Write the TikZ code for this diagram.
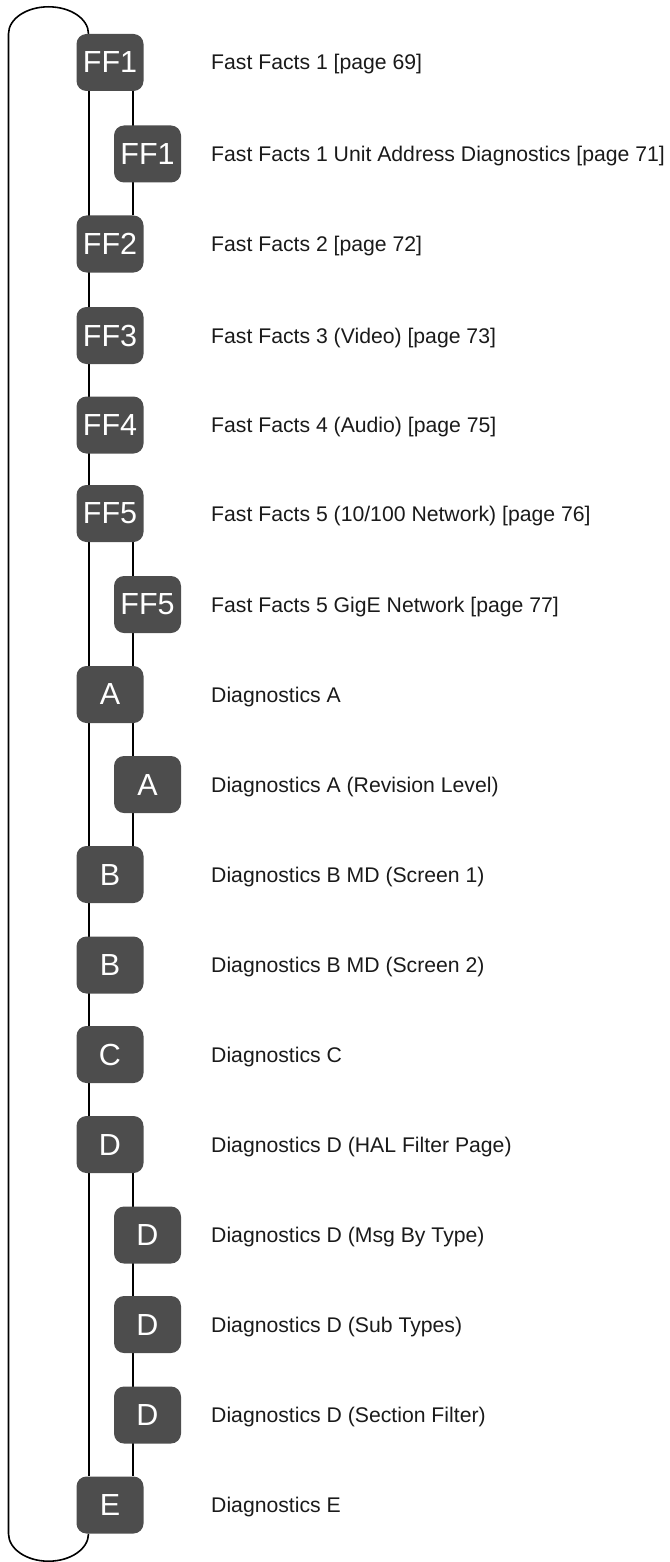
\documentclass[tikz,border=0pt]{standalone}
\usepackage{fontspec}
\setmainfont{Liberation Sans}
\usetikzlibrary{calc,backgrounds}
\definecolor{tabgray}{HTML}{4D4D4D}
\definecolor{inktext}{HTML}{1A1A1A}

\begin{document}
\begin{tikzpicture}[x=1pt, y=-1pt,
  mainbox/.style={rectangle, fill=tabgray, rounded corners=10pt, minimum width=67pt, minimum height=57pt, inner sep=0pt, text=white, font=\fontsize{30.5}{32}\selectfont},
  subbox/.style={mainbox},
  entry/.style={anchor=west, inner sep=0pt, text height=15pt, text depth=0pt, text=inktext, font=\fontsize{21.2}{24}\selectfont},
  link/.style={line width=2pt, black},
  loopline/.style={line width=1.6pt, black}
]
  \useasboundingbox (0,0) rectangle (669,1562);
  \coordinate (lx) at (88.5,0);
  \coordinate (rx) at (133,0);
  \coordinate (ox) at (8.5,0);

  \node[mainbox] (ff1) at (110,62.5) {FF1};
  \node[entry] (t-ff1) at (211,62.5) {Fast Facts 1 [page 69]};
  \node[subbox] (ff1u) at (147.5,154) {FF1};
  \node[entry] (t-ff1u) at (211,154) {Fast Facts 1 Unit Address Diagnostics [page 71]};
  \node[mainbox] (ff2) at (110,244) {FF2};
  \node[entry] (t-ff2) at (211,244) {Fast Facts 2 [page 72]};
  \node[mainbox] (ff3) at (110,335.5) {FF3};
  \node[entry] (t-ff3) at (211,335.5) {Fast Facts 3 (Video) [page 73]};
  \node[mainbox] (ff4) at (110,425) {FF4};
  \node[entry] (t-ff4) at (211,425) {Fast Facts 4 (Audio) [page 75]};
  \node[mainbox] (ff5) at (110,513.5) {FF5};
  \node[entry] (t-ff5) at (211,513.5) {Fast Facts 5 (10/100 Network) [page 76]};
  \node[subbox] (ff5g) at (147.5,604.5) {FF5};
  \node[entry] (t-ff5g) at (211,604.5) {Fast Facts 5 GigE Network [page 77]};
  \node[mainbox] (a) at (110,694.5) {A};
  \node[entry] (t-a) at (211,694.5) {Diagnostics A};
  \node[subbox] (arev) at (147.5,784.5) {A};
  \node[entry] (t-arev) at (211,784.5) {Diagnostics A (Revision Level)};
  \node[mainbox] (b1) at (110,874.5) {B};
  \node[entry] (t-b1) at (211,874.5) {Diagnostics B MD (Screen 1)};
  \node[mainbox] (b2) at (110,965) {B};
  \node[entry] (t-b2) at (211,965) {Diagnostics B MD (Screen 2)};
  \node[mainbox] (c) at (110,1054.5) {C};
  \node[entry] (t-c) at (211,1054.5) {Diagnostics C};
  \node[mainbox] (d) at (110,1144.5) {D};
  \node[entry] (t-d) at (211,1144.5) {Diagnostics D (HAL Filter Page)};
  \node[subbox] (dmsg) at (147.5,1235) {D};
  \node[entry] (t-dmsg) at (211,1235) {Diagnostics D (Msg By Type)};
  \node[subbox] (dsub) at (147.5,1324.5) {D};
  \node[entry] (t-dsub) at (211,1324.5) {Diagnostics D (Sub Types)};
  \node[subbox] (dsec) at (147.5,1415) {D};
  \node[entry] (t-dsec) at (211,1415) {Diagnostics D (Section Filter)};
  \node[mainbox] (e) at (110,1505) {E};
  \node[entry] (t-e) at (211,1505) {Diagnostics E};

  \begin{scope}[on background layer]
    % main spine and the side branches
    \draw[link] (ff1.south -| lx) -- (e.north -| lx);
    \draw[link] (ff1.south -| rx) -- (ff2.north -| rx);
    \draw[link] (ff5.south -| rx) -- (b1.north -| rx);
    \draw[link] (d.south -| rx) -- (e.north -| rx);
    % return loop
    \draw[loopline] (ff1.north -| lx) arc[start angle=0, end angle=180, x radius=40pt, y radius=27pt]
      -- (e.south -| ox) arc[start angle=180, end angle=360, x radius=40pt, y radius=27.5pt];
  \end{scope}
\end{tikzpicture}
\end{document}
